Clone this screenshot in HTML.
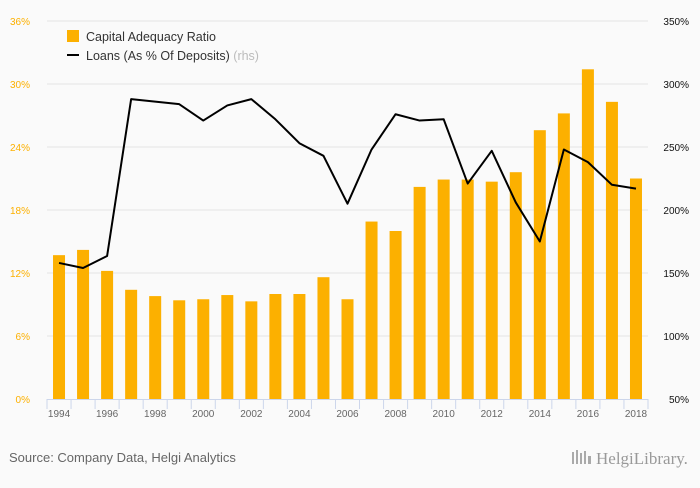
<!DOCTYPE html>
<html><head><meta charset="utf-8"><style>
html,body{margin:0;padding:0;background:#fafafa;}
body{width:700px;height:483px;overflow:hidden;font-family:"Liberation Sans",sans-serif;}
</style></head><body>
<svg width="700" height="483" xmlns="http://www.w3.org/2000/svg">
<rect width="700" height="483" fill="#fafafa"/>
<g id="grid"></g><g id="bars"></g><g id="line"></g><g id="axes"></g>
<g>
<rect x="67" y="30" width="12" height="12" fill="#fcb000"/>
<text x="86" y="41" font-size="12.5" fill="#333">Capital Adequacy Ratio</text>
<line x1="67" y1="55" x2="79" y2="55" stroke="#000" stroke-width="2"/>
<text x="86" y="60" font-size="12.5" fill="#333">Loans (As % Of Deposits) <tspan fill="#bbb">(rhs)</tspan></text>
</g>
<text x="9" y="462" font-size="13" fill="#666">Source: Company Data, Helgi Analytics</text>
<text x="596" y="464" font-size="17" fill="#999" font-family="Liberation Serif,serif">HelgiLibrary.</text>
<g fill="#aaa"><rect x="572" y="452" width="2" height="12"/><rect x="576" y="450" width="2" height="14"/><rect x="580" y="453" width="2" height="11"/><rect x="584" y="451" width="2" height="13"/><rect x="588" y="456" width="3" height="8"/></g>
</svg>
<script>
const years=[1994,1995,1996,1997,1998,1999,2000,2001,2002,2003,2004,2005,2006,2007,2008,2009,2010,2011,2012,2013,2014,2015,2016,2017,2018];
const carValues=[13.7,14.2,12.2,10.4,9.8,9.4,9.5,9.9,9.3,10.0,10.0,11.6,9.5,16.9,16.0,20.2,20.9,20.9,20.7,21.6,25.6,27.2,31.4,28.3,21.0];
const loanValues=[158,154,163.5,288,286,284,271,283,288,272,253,243,205,248,276,271,272,221,247,206,175,248,238,220,217];
const leftTicks=[0,6,12,18,24,30,36];
const rightTicks=[50,100,150,200,250,300,350];
const NS="http://www.w3.org/2000/svg";
const X0=47,X1=648,Y0=399,Y1=21;
const step=(X1-X0)/years.length;
const xC=i=>X0+step*(i+0.5);
const yL=v=>Y0-(v/36)*(Y0-Y1);
const yR=v=>Y0-((v-50)/300)*(Y0-Y1);
function mk(tag,attrs,parent,text){const e=document.createElementNS(NS,tag);for(const k in attrs)e.setAttribute(k,attrs[k]);if(text!==undefined)e.textContent=text;document.getElementById(parent).appendChild(e);return e;}
leftTicks.forEach((t,i)=>{
  if(t>0){const g=mk('line',{x1:X0,x2:X1,y1:yL(t),y2:yL(t),stroke:'#e4e4e4','stroke-width':1},'grid');
  
  }
  const l=mk('text',{x:30,y:yL(t)+4,'font-size':10,fill:'#fcb000','text-anchor':'end'},'axes',t+'%');
  
  
});
rightTicks.forEach(t=>{
  const l=mk('text',{x:689,y:yR(t)+4,'font-size':10,fill:'#111','text-anchor':'end'},'axes',t+'%');
  
  
});
const ax=mk('line',{x1:X0,x2:X1,y1:Y0+0.5,y2:Y0+0.5,stroke:'#ccd6eb','stroke-width':1},'axes');


for(let i=0;i<=years.length;i++){
  const tk=mk('line',{x1:X0+step*i,x2:X0+step*i,y1:Y0,y2:Y0+10,stroke:'#ccd6eb'},'axes');
  
  
}
years.forEach((y,i)=>{
  if(i%2===0){const l=mk('text',{x:xC(i),y:Y0+18,'font-size':10,fill:'#666','text-anchor':'middle'},'axes',y);
  
  }
  const b=mk('rect',{x:xC(i)-6,y:yL(carValues[i]),width:12,height:Y0-yL(carValues[i]),fill:'#fcb000'},'bars');
  
  
});
const p=mk('polyline',{points:loanValues.map((v,i)=>xC(i)+','+yR(v)).join(' '),fill:'none',stroke:'#000','stroke-width':2,'stroke-linejoin':'round'},'line');


</script>
</body></html>
